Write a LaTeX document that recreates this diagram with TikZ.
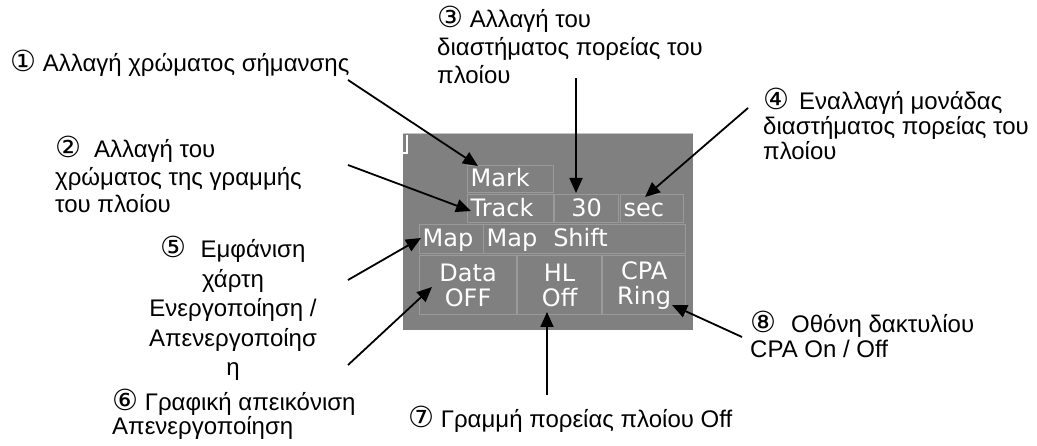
\documentclass[tikz,border=0pt]{standalone}
\usepackage{fontspec}
\setmainfont{Liberation Sans}
\newfontfamily\dejavu{DejaVu Sans}
\usetikzlibrary{arrows.meta,calc}
\definecolor{panelgrey}{HTML}{808080}
\definecolor{btnedge}{HTML}{9A9A9A}
\definecolor{paneledge}{HTML}{C4C4C4}
% circled step numbers, set a little larger than the running text
\newcommand\cnum[1]{{\dejavu\fontsize{29}{29}\selectfont #1}}
\begin{document}
\begin{tikzpicture}[x=1pt,y=-1pt,
  % multi-line labels are placed by the baseline of their last line
  lab/.style={inner sep=0pt, align=left, anchor=base west},
  btn/.style={draw=btnedge, line width=1.2pt, anchor=north west,
    inner xsep=3pt, inner ysep=0pt, text=white,
    font=\dejavu\fontsize{24}{25}\selectfont},
  btnone/.style={btn, text height=19pt, text depth=4pt, minimum height=#1},
  callout/.style={draw=black, line width=1.8pt,
    -{Triangle[length=15pt,width=13pt]}}
]
\useasboundingbox (0,0) rectangle (1037,446);

% control panel
\fill[panelgrey] (403,133) rectangle (693,330);
\draw[paneledge, line width=1.5pt] (403,133.75) -- (693,133.75);
\draw[white, line width=1.2pt] (403,153) -- (407,153) -- (407,135);

% buttons
\node[btnone=27pt, text width=80pt, align=left] (mark) at (467,165) {Mark};
\node[btnone=28pt, text width=80pt, align=left] (track) at (467,194) {Track};
\node[btnone=28pt, text width=58pt, align=center] (int) at (554,194) {30};
\node[btnone=28pt, text width=57pt, align=left] (unit) at (620,194) {sec};
\node[btnone=29pt, text width=58pt, align=left] (map) at (419,224) {Map};
\node[btnone=29pt, text width=196pt, align=left] (shift) at (483,224) {Map\ \ Shift};
\node[btn, minimum height=59pt, text width=91pt, align=center] (data) at (419,255) {Data\\OFF};
\node[btn, minimum height=59pt, text width=78pt, align=center] (hl) at (517,255) {HL\\Off};
\node[btn, minimum height=59pt, text width=77pt, align=center] (cpa) at (602,255) {CPA\\Ring};

% callout texts
\begin{scope}[font=\fontsize{24}{27.5}\selectfont]
\node[lab] (l1) at (10,72) {\cnum{①} Αλλαγή χρώματος σήμανσης};
\node[lab] (l2) at (55,213) {\cnum{②}\hspace{13pt}Αλλαγή του\\χρώματος της γραμμής\\του πλοίου};
\node[lab, font=\fontsize{24}{28}\selectfont] (l3) at (437,84) {\cnum{③} Αλλαγή του\\διαστήματος πορείας του\\πλοίου};
\node[lab, font=\fontsize{24}{25}\selectfont] (l4) at (763,160) {\cnum{④}\hspace{10pt}Εναλλαγή μονάδας\\διαστήματος πορείας του\\πλοίου};
\node[lab, anchor=base, align=center, font=\fontsize{24}{29.5}\selectfont] (l5) at (233,376) {\cnum{⑤}\hspace{14pt}Εμφάνιση\\χάρτη\\Ενεργοποίηση /\\Απενεργοποίησ\\η};
\node[lab, font=\fontsize{24}{22}\selectfont] (l6) at (112,435) {\cnum{⑥} Γραφική απεικόνιση\\Απενεργοποίηση};
\node[lab] (l7) at (408,428) {\cnum{⑦} Γραμμή πορείας πλοίου Off};
\node[lab, font=\fontsize{24}{25}\selectfont] (l8) at (750,358) {\cnum{⑧}\hspace{15pt}Οθόνη δακτυλίου\\CPA On / Off};
\end{scope}

% callout tails
\coordinate (s1) at (348,80);
\coordinate (s2) at (348,165);
\coordinate (s3) at (576,78);
\coordinate (s4) at (748,108);
\coordinate (s5) at (348,280);
\coordinate (s6) at (348,365);
\coordinate (s7) at (547,395);
\coordinate (s8) at (742,337);

% callout arrows
\draw[callout] (s1) -- ($(mark.north west)+(11,1)$);
\draw[callout] (s2) -- ($(track.north west)+(4,17)$);
\draw[callout] (s3) -- ($(int.north west)+(22,-1)$);
\draw[callout] (s4) -- ($(unit.north west)+(25,3)$);
\draw[callout] (s5) -- ($(map.north west)+(2,14)$);
\draw[callout] (s6) -- ($(data.north west)+(13,32)$);
\draw[callout] (s7) -- ($(hl.north west)+(30,57)$);
\draw[callout] (s8) -- ($(cpa.north west)+(70,50)$);
\end{tikzpicture}
\end{document}
